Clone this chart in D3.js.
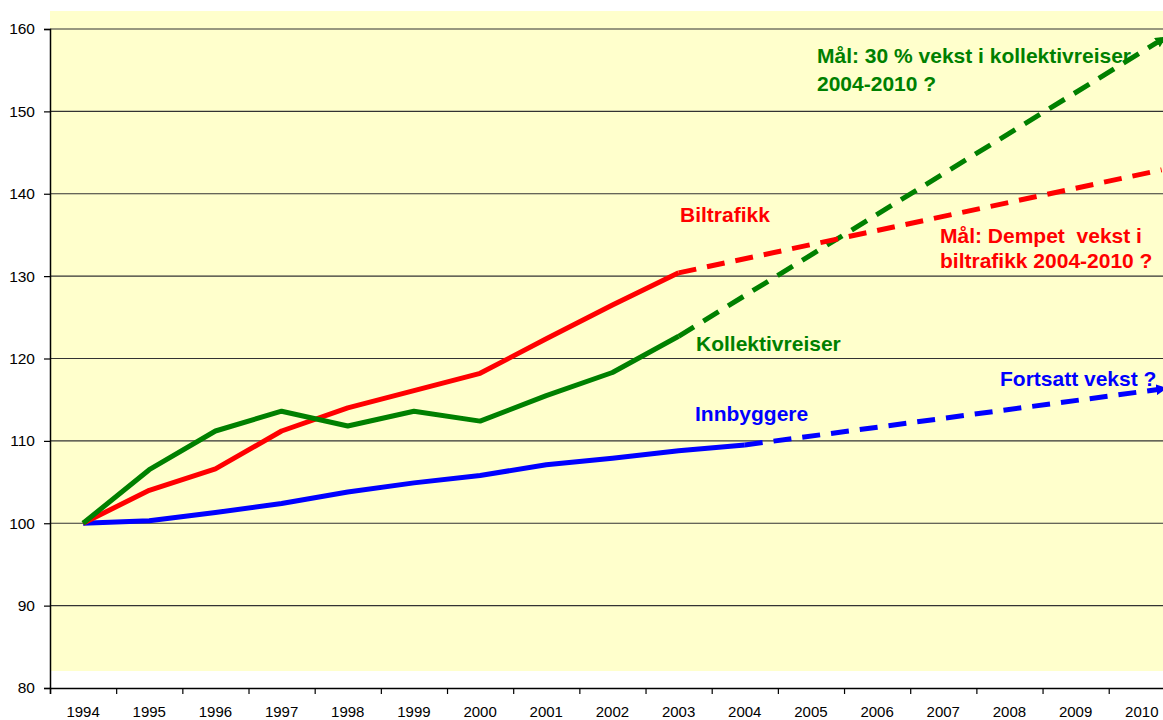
<!DOCTYPE html>
<html>
<head>
<meta charset="utf-8">
<script src="https://cdn.jsdelivr.net/npm/d3@7"></script>
<style>
  body { margin: 0; background: #fff; }
  text { font-family: Arial, "Liberation Sans", sans-serif; }
</style>
</head>
<body>
<div id="chart"></div>
<script>
// Data
var years = [1994, 1995, 1996, 1997, 1998, 1999, 2000, 2001, 2002, 2003, 2004, 2005, 2006, 2007, 2008, 2009, 2010];
var yTicks = [80, 90, 100, 110, 120, 130, 140, 150, 160];

// solid series (index per year from 1994)
var biltrafikk = [100, 104.0, 106.6, 111.2, 114.0, 116.1, 118.2, 122.4, 126.5, 130.4];
var kollektivreiser = [100, 106.5, 111.2, 113.6, 111.8, 113.6, 112.4, 115.5, 118.3, 122.7];
var innbyggere = [100, 100.3, 101.3, 102.4, 103.8, 104.9, 105.8, 107.1, 107.9, 108.8, 109.5];

// dashed targets / trends: [year, value]
var biltrafikkMaal = [[2003, 130.4], [2010.3, 142.9]];
var kollektivMaal = [[2003, 122.7], [2010.3, 158.7]];
var innbyggereTrend = [[2004, 109.5], [2010.3, 116.3]];

var svgWidth = 1163;
var svgHeight = 720;

var margin = { top: 29, left: 50, bottom: 32 };
var bandW = 66.17;
var plotRight = margin.left + bandW * years.length;
var plotBottom = svgHeight - margin.bottom;

var svg = d3.select("#chart")
  .append("svg")
  .attr("width", svgWidth)
  .attr("height", svgHeight)
  .style("display", "block");

// scales
var x = d3.scaleLinear()
  .domain([years[0] - 0.5, years[years.length - 1] + 0.5])
  .range([margin.left, plotRight]);
var y = d3.scaleLinear()
  .domain([80, 160])
  .range([plotBottom, margin.top]);

// yellow plot background
svg.append("rect")
  .attr("x", margin.left)
  .attr("y", 11)
  .attr("width", plotRight - margin.left)
  .attr("height", 671 - 11)
  .attr("fill", "#FFFFCC");

// gridlines
svg.append("g")
  .selectAll("line")
  .data(yTicks.slice(1))
  .enter()
  .append("line")
  .attr("x1", margin.left)
  .attr("x2", plotRight)
  .attr("y1", d => y(d))
  .attr("y2", d => y(d))
  .attr("stroke", "#333")
  .attr("stroke-width", 1.2);

// axes
var leftAxis = d3.axisLeft(y).tickValues(yTicks).tickSize(6).tickPadding(9);
var yAxisG = svg.append("g")
  .attr("transform", `translate(${margin.left}, 0)`)
  .call(leftAxis);

var bottomAxis = d3.axisBottom(x)
  .tickValues(d3.range(years[0] - 0.5, years[years.length - 1] + 1, 1))
  .tickSize(6)
  .tickFormat("");
var xAxisG = svg.append("g")
  .attr("transform", `translate(0, ${plotBottom})`)
  .call(bottomAxis);

[yAxisG, xAxisG].forEach(function(g) {
  g.select(".domain").attr("stroke", "#000").attr("stroke-width", 1.5);
  g.selectAll(".tick line").attr("stroke", "#000").attr("stroke-width", 1.2);
});
yAxisG.selectAll(".tick text")
  .attr("font-size", "15.5px")
  .attr("fill", "#000");

// year labels centred in their bands
svg.append("g")
  .selectAll("text")
  .data(years)
  .enter()
  .append("text")
  .attr("x", d => x(d))
  .attr("y", 717)
  .attr("text-anchor", "middle")
  .attr("font-size", "15px")
  .attr("fill", "#000")
  .text(d => d);

// arrow markers
var defs = svg.append("defs");
[["arrGreen", "#008000"], ["arrBlue", "#0000FF"]].forEach(function(m) {
  defs.append("marker")
    .attr("id", m[0])
    .attr("viewBox", "0 0 10 10")
    .attr("refX", 5)
    .attr("refY", 5)
    .attr("markerWidth", 11)
    .attr("markerHeight", 11)
    .attr("markerUnits", "userSpaceOnUse")
    .attr("orient", "auto")
    .append("path")
    .attr("d", "M0,0 L10,5 L0,10 z")
    .attr("fill", m[1]);
});

var line = d3.line()
  .x((d, i) => x(years[i]))
  .y(d => y(d));
var pairLine = d3.line()
  .x(d => x(d[0]))
  .y(d => y(d[1]));

// dashed projections
var dashed = [
  { data: kollektivMaal, color: "#008000", marker: "arrGreen" },
  { data: biltrafikkMaal, color: "#FF0000", marker: null },
  { data: innbyggereTrend, color: "#0000FF", marker: "arrBlue" }
];
dashed.forEach(function(s) {
  var p = svg.append("path")
    .attr("d", pairLine(s.data))
    .attr("fill", "none")
    .attr("stroke", s.color)
    .attr("stroke-width", 5)
    .attr("stroke-dasharray", "18,11");
  if (s.marker) p.attr("marker-end", `url(#${s.marker})`);
});

// solid series
var solid = [
  { data: innbyggere, color: "#0000FF" },
  { data: biltrafikk, color: "#FF0000" },
  { data: kollektivreiser, color: "#008000" }
];
solid.forEach(function(s) {
  svg.append("path")
    .attr("d", line(s.data))
    .attr("fill", "none")
    .attr("stroke", s.color)
    .attr("stroke-width", 5)
    .attr("stroke-linejoin", "round");
});

// labels
var labels = [
  { t: "Biltrafikk", x: 680, y: 222, c: "#FF0000" },
  { t: "Kollektivreiser", x: 696, y: 351, c: "#008000" },
  { t: "Innbyggere", x: 695, y: 421, c: "#0000FF" },
  { t: "Fortsatt vekst ?", x: 1000, y: 386, c: "#0000FF" },
  { t: "Mål: 30 % vekst i kollektivreiser", x: 817, y: 63, c: "#008000" },
  { t: "2004-2010 ?", x: 817, y: 91, c: "#008000" },
  { t: "Mål: Dempet  vekst i", x: 940, y: 243, c: "#FF0000" },
  { t: "biltrafikk 2004-2010 ?", x: 940, y: 268, c: "#FF0000" }
];
svg.append("g")
  .selectAll("text")
  .data(labels)
  .enter()
  .append("text")
  .attr("x", d => d.x)
  .attr("y", d => d.y)
  .attr("font-size", "21px")
  .attr("font-weight", "bold")
  .attr("fill", d => d.c)
  .style("white-space", "pre")
  .text(d => d.t);
</script>
</body>
</html>
